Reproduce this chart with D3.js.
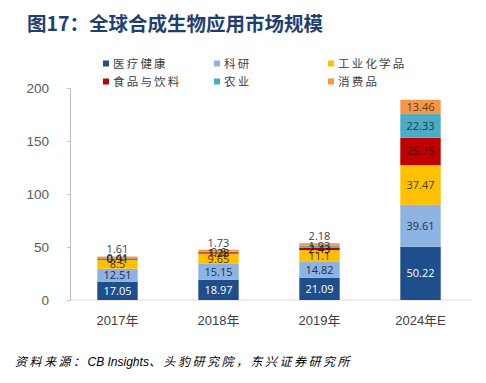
<!DOCTYPE html>
<html>
<head>
<meta charset="utf-8">
<script src="https://cdn.jsdelivr.net/npm/d3@7"></script>
<style>
  body { margin: 0; background: #fff; }
  svg { display: block; font-family: "Liberation Sans", Arial, sans-serif; }
</style>
</head>
<body>
<svg width="486" height="383"></svg>
<script>
// DATA
const years = ["2017年", "2018年", "2019年", "2024年E"]
const seriesNames = ["医疗健康", "科研", "工业化学品", "食品与饮料", "农业", "消费品"]
const healthcare = [17.05, 18.97, 21.09, 50.22]
const research = [12.51, 15.15, 14.82, 39.61]
const industrial = [8.5, 9.65, 11.1, 37.47]
const food = [0.91, 1.28, 2.43, 25.75]
const agriculture = [0.41, 0.6, 1.93, 22.33]
const consumer = [1.61, 1.73, 2.18, 13.46]
const yTicks = [0, 50, 100, 150, 200]

const colors = ["#1f4e8c", "#8db3e2", "#ffc000", "#c00000", "#4bacc6", "#f79646"]
const labelColors = ["#ffffff", "#1f2f4f", "#4a3a00", "#3a0000", "#1f3a44", "#5a3a20"]

const table = years.map((y, i) => ({
  year: y,
  "医疗健康": healthcare[i],
  "科研": research[i],
  "工业化学品": industrial[i],
  "食品与饮料": food[i],
  "农业": agriculture[i],
  "消费品": consumer[i]
}))

const svg = d3.select("svg")

// title
svg.append("text")
  .attr("x", 27)
  .attr("y", 31)
  .attr("font-family", "Noto Sans CJK SC")
  .attr("font-weight", "bold")
  .attr("font-size", 19.5)
  .attr("fill", "#1f3f73")
  .text("图17：全球合成生物应用市场规模")

// scales
const scaleX = d3.scaleBand()
  .domain(years)
  .range([67, 471])
  .paddingInner(0.6)
  .paddingOuter(0.3)

const scaleY = d3.scaleLinear()
  .domain([0, 200])
  .range([300, 88])

// axes
const axisY = d3.axisLeft(scaleY)
  .tickValues(yTicks)
  .tickSizeInner(3)
  .tickSizeOuter(3)
  .tickPadding(18)

const axisYGroup = svg.append("g")
  .attr("transform", "translate(70, 0)")
  .call(axisY)

axisYGroup.selectAll("path, line").attr("stroke", "#bfbfbf")
axisYGroup.selectAll("text")
  .attr("font-size", 13.5)
  .attr("fill", "#595959")
  .attr("font-family", "Liberation Sans")

svg.append("line")
  .attr("x1", 70).attr("x2", 472)
  .attr("y1", scaleY(0)).attr("y2", scaleY(0))
  .attr("stroke", "#d9d9d9")

const axisX = d3.axisBottom(scaleX).tickSize(0).tickPadding(16)
const axisXGroup = svg.append("g")
  .attr("transform", `translate(0, ${scaleY(0)})`)
  .call(axisX)
axisXGroup.select("path").remove()
axisXGroup.selectAll("text")
  .attr("font-size", 13)
  .attr("fill", "#404040")
  .attr("font-family", "Liberation Sans, Noto Sans CJK SC")

// stacks
const stack = d3.stack().keys(seriesNames)
const stacked = stack(table)

const layers = svg.selectAll("g.layer")
  .data(stacked)
  .enter()
  .append("g")
  .attr("class", "layer")
  .attr("fill", (d, i) => colors[i])

layers.selectAll("rect")
  .data(d => d)
  .enter()
  .append("rect")
  .attr("x", d => scaleX(d.data.year))
  .attr("width", scaleX.bandwidth())
  .attr("y", d => scaleY(d[1]))
  .attr("height", d => scaleY(d[0]) - scaleY(d[1]))

// labels
stacked.forEach((layer, k) => {
  svg.append("g")
    .selectAll("text")
    .data(layer)
    .enter()
    .append("text")
    .attr("x", d => scaleX(d.data.year) + scaleX.bandwidth() / 2)
    .attr("y", (d, i) => {
      if (k === 5 && i < 3) return scaleY(d[1]) - 7
      return scaleY((d[0] + d[1]) / 2)
    })
    .attr("dy", "0.35em")
    .attr("text-anchor", "middle")
    .attr("font-family", "Open Sans")
    .attr("font-size", 11)
    .attr("fill", (d, i) => (k === 5 && i < 3) ? "#404040" : labelColors[k])
    .text(d => d.data[seriesNames[k]])
})

// legend
const legendPos = [[103, 64], [214, 64], [328, 64], [103, 82], [214, 82], [328, 82]]
const legend = svg.selectAll("g.legend")
  .data(seriesNames)
  .enter()
  .append("g")
  .attr("class", "legend")
  .attr("transform", (d, i) => `translate(${legendPos[i][0]}, ${legendPos[i][1]})`)

legend.append("rect")
  .attr("x", 0).attr("y", -3.5)
  .attr("width", 6).attr("height", 6)
  .attr("fill", (d, i) => colors[i])

legend.append("text")
  .attr("x", 10)
  .attr("dy", "0.35em")
  .attr("font-family", "Noto Sans CJK SC")
  .attr("font-size", 11.5)
  .attr("letter-spacing", 2.2)
  .attr("fill", "#404040")
  .text(d => d)

// source
const source = svg.append("text")
  .attr("x", 15)
  .attr("y", 366)
  .attr("font-size", 12)
  .attr("font-style", "italic")
  .attr("fill", "#000")

source.append("tspan")
  .attr("font-family", "Noto Sans CJK SC")
  .attr("letter-spacing", 2.5)
  .text("资料来源：")
source.append("tspan")
  .attr("font-family", "Liberation Sans")
  .text("CB Insights")
source.append("tspan")
  .attr("font-family", "Noto Sans CJK SC")
  .attr("letter-spacing", 2.5)
  .text("、头豹研究院，东兴证券研究所")
</script>
</body>
</html>
